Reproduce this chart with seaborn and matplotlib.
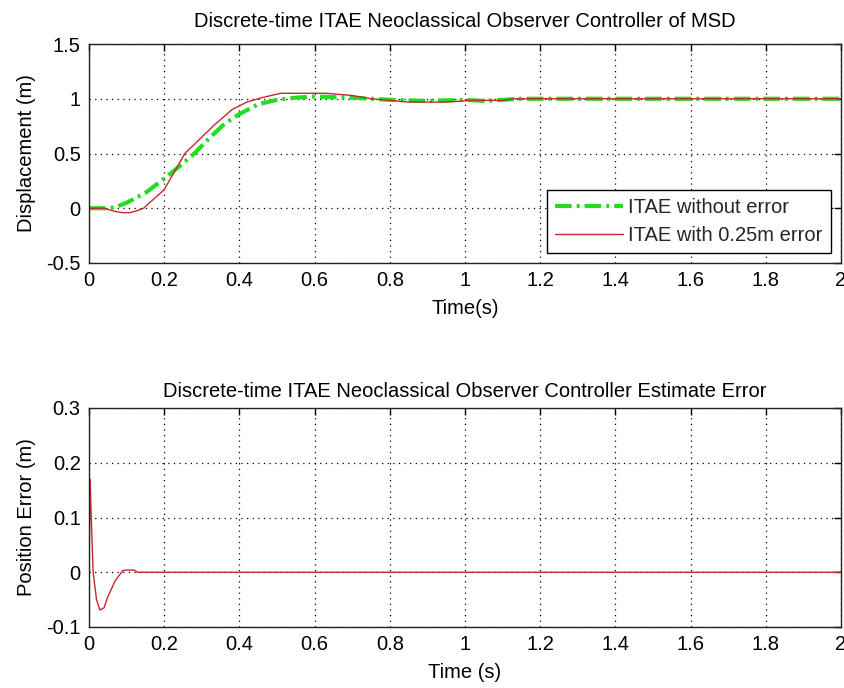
import numpy as np
import pandas as pd
import matplotlib
matplotlib.use("Agg")
import matplotlib.pyplot as plt
import seaborn as sns

# Top plot data
t_green = [0, 0.05, 0.07, 0.1, 0.15, 0.2, 0.25, 0.28, 0.32, 0.36, 0.4, 0.45, 0.5, 0.55, 0.6, 0.7, 0.8, 0.9, 1.0, 1.05, 1.1, 1.15, 1.3, 1.5, 1.7, 2.0]
y_green = [0, 0, 0.01, 0.05, 0.14, 0.27, 0.41, 0.5, 0.64, 0.77, 0.86, 0.95, 0.99, 1.01, 1.02, 1.01, 0.99, 0.98, 0.99, 0.98, 0.99, 1.0, 1.0, 1.0, 1.0, 1.0]
t_red = [0, 0.04, 0.07, 0.09, 0.11, 0.13, 0.145, 0.2, 0.255, 0.3, 0.33, 0.38, 0.42, 0.46, 0.51, 0.63, 0.7, 0.75, 0.85, 0.95, 1.02, 1.1, 1.13, 1.3, 1.6, 2.0]
y_red = [0, 0, -0.03, -0.04, -0.04, -0.02, 0, 0.17, 0.5, 0.65, 0.75, 0.9, 0.97, 1.01, 1.05, 1.05, 1.03, 1.0, 0.97, 0.97, 0.985, 0.985, 1.0, 1.0, 1.0, 1.0]

# Bottom plot data
t_err = [0, 0.003, 0.006, 0.011, 0.02, 0.029, 0.04, 0.05, 0.07, 0.09, 0.1, 0.12, 0.13, 0.2, 0.5, 1.0, 1.5, 2.0]
y_err = [0, 0.17, 0.1, 0.0, -0.05, -0.069, -0.065, -0.045, -0.015, 0.003, 0.004, 0.004, 0, 0, 0, 0, 0, 0]

title_top = "Discrete-time ITAE Neoclassical Observer Controller of MSD"
title_bot = "Discrete-time ITAE Neoclassical Observer Controller Estimate Error"
lab_green = "ITAE without error"
lab_red = "ITAE with 0.25m error"

sns.set_theme(style="white")
plt.rcParams['font.family'] = ['Liberation Sans', 'DejaVu Sans']

fig = plt.figure(figsize=(8.45, 6.88), dpi=100)
ax1 = fig.add_axes([89/845, 1-263/688, 752/845, 219/688])
ax2 = fig.add_axes([89/845, 1-627/688, 752/845, 219/688])

green = '#22dd22'
red = '#c8282a'

df_g = pd.DataFrame({'t': t_green, 'y': y_green})
df_r = pd.DataFrame({'t': t_red, 'y': y_red})
df_e = pd.DataFrame({'t': t_err, 'y': y_err})

sns.lineplot(data=df_g, x='t', y='y', ax=ax1, color=green, lw=3, linestyle=(0, (4, 1.2, 0.7, 1.2)), label=lab_green)
sns.lineplot(data=df_r, x='t', y='y', ax=ax1, color=red, lw=1.0, label=lab_red)
sns.lineplot(data=df_e, x='t', y='y', ax=ax2, color=red, lw=1.0, legend=False)

for ax, yl, yt, xl, yl_lab, ttl, tpad in [
    (ax1, (-0.5, 1.5), [-0.5, 0, 0.5, 1, 1.5], "Time(s)", "Displacement (m)", title_top, 12),
    (ax2, (-0.1, 0.3), [-0.1, 0, 0.1, 0.2, 0.3], "Time (s)", "Position Error (m)", title_bot, 8)]:
    ax.set_xlim(0, 2)
    ax.set_ylim(*yl)
    ax.set_xticks(np.arange(0, 2.01, 0.2))
    ax.set_xticklabels(['0', '0.2', '0.4', '0.6', '0.8', '1', '1.2', '1.4', '1.6', '1.8', '2'])
    ax.set_yticks(yt)
    ax.set_yticklabels([('%g' % v) for v in yt])
    ax.grid(True, color='black', linestyle=(0, (1, 3.5)), lw=0.9)
    ax.tick_params(direction='in', top=True, right=True, length=5, width=1, color='black',
                   labelsize=14.5, pad=6, colors='black')
    ax.tick_params(axis='y', pad=6)
    for s in ax.spines.values():
        s.set_color('#222222')
        s.set_linewidth(1.0)
    ax.set_xlabel(xl, fontsize=14.5, color='black', labelpad=6)
    ax.set_ylabel(yl_lab, fontsize=14.5, color='black', labelpad=7)
    ax.set_title(ttl, fontsize=14.5, color='black', pad=tpad)

leg = ax1.legend(loc='lower right', fontsize=14.5, frameon=True, fancybox=False,
                 edgecolor='black', framealpha=1, borderpad=0.4, handlelength=3.4,
                 handletextpad=0.25, labelspacing=0.45, borderaxespad=0.5)
leg.get_frame().set_linewidth(1.0)

fig.savefig('out.png', dpi=100)
